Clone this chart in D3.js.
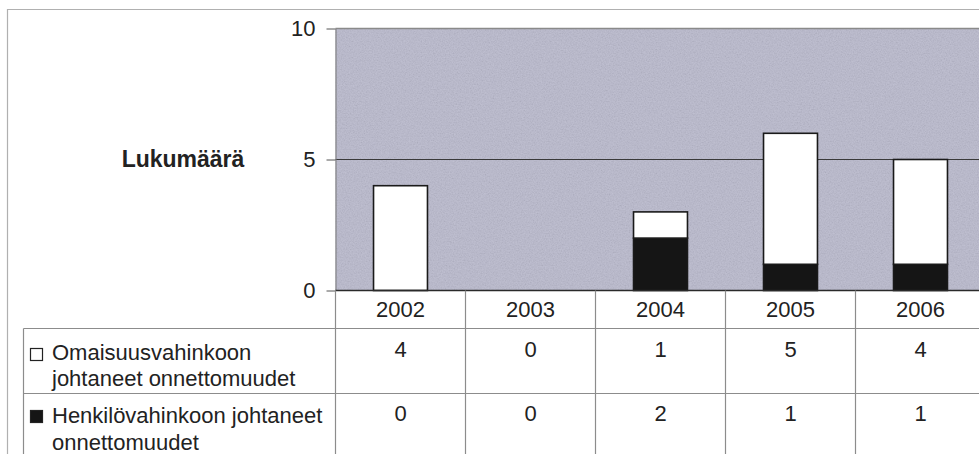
<!DOCTYPE html>
<html>
<head>
<meta charset="utf-8">
<script src="https://cdn.jsdelivr.net/npm/d3@7"></script>
<style>
  html, body { margin: 0; padding: 0; background: #fff; }
  svg { display: block; }
  text { font-family: Arial, "Liberation Sans", sans-serif; fill: #222; }
</style>
</head>
<body>
<svg id="chart" width="979" height="454"></svg>
<script>
// ---- data ----
const years = ["2002", "2003", "2004", "2005", "2006"];
const omaisuus = [4, 0, 1, 5, 4];   // Omaisuusvahinkoon johtaneet onnettomuudet (white)
const henkilo = [0, 0, 2, 1, 1];    // Henkilövahinkoon johtaneet onnettomuudet (black)
const yTicks = [0, 5, 10];
const seriesLabels = [
  ["Omaisuusvahinkoon", "johtaneet onnettomuudet"],
  ["Henkilövahinkoon johtaneet", "onnettomuudet"]
];
const seriesValues = [omaisuus, henkilo];
const seriesColors = ["#ffffff", "#151515"];
const axisTitle = "Lukumäärä";

// ---- layout ----
const W = 979, H = 454;
const plotL = 335.5, plotR = 985.5, plotT = 28.5, plotB = 290.5;
const tableL = 23.5, row1T = 328.5, row2T = 393.5;
const FS = "22px";

const svg = d3.select("#chart");

// grain filter for the plot background
const defs = svg.append("defs");
const f = defs.append("filter").attr("id", "grain")
  .attr("x", 0).attr("y", 0).attr("width", 1).attr("height", 1);
f.append("feTurbulence").attr("type", "fractalNoise")
  .attr("baseFrequency", 0.75).attr("numOctaves", 2).attr("seed", 7).attr("result", "n");
f.append("feColorMatrix").attr("type", "matrix")
  .attr("values", "1 0 0 0 0  1 0 0 0 0  1 0 0 0 0  0 0 0 0 0.14");

const x = d3.scaleBand().domain(years).range([plotL, plotR]).padding(0);
const xb = d3.scaleBand().domain(years).range([plotL, plotR])
  .paddingInner(0.585).paddingOuter(0.2925);
const y = d3.scaleLinear().domain([0, 10]).range([plotB, plotT]);

// outer frame
svg.append("path")
  .attr("d", `M7.5,${H} V9.5 H${W}`)
  .attr("fill", "none").attr("stroke", "#b0b0b0").attr("stroke-width", 1.2);

// plot background
svg.append("rect")
  .attr("x", plotL).attr("y", plotT)
  .attr("width", plotR - plotL).attr("height", plotB - plotT)
  .attr("fill", "#b8b8cc");
svg.append("rect")
  .attr("x", plotL).attr("y", plotT)
  .attr("width", plotR - plotL).attr("height", plotB - plotT)
  .attr("filter", "url(#grain)");
svg.append("line")
  .attr("x1", plotL).attr("x2", plotR).attr("y1", plotT).attr("y2", plotT)
  .attr("stroke", "#8a8a8a").attr("stroke-width", 1.5);

// gridline at 5
svg.append("g").selectAll("line")
  .data(yTicks.filter(t => t > 0 && t < 10))
  .join("line")
  .attr("x1", plotL).attr("x2", plotR)
  .attr("y1", d => y(d)).attr("y2", d => y(d))
  .attr("stroke", "#3a3a3a").attr("stroke-width", 1);

// stacked bars
const stackData = years.map((yr, i) => ({ year: yr, henkilo: henkilo[i], omaisuus: omaisuus[i] }));
const stack = d3.stack().keys(["henkilo", "omaisuus"]);
const layers = stack(stackData);
const colorByKey = { henkilo: seriesColors[1], omaisuus: seriesColors[0] };

svg.append("g").selectAll("g")
  .data(layers)
  .join("g")
  .attr("fill", d => colorByKey[d.key])
  .selectAll("rect")
  .data(d => d.filter(s => s[1] - s[0] > 0))
  .join("rect")
  .attr("x", d => xb(d.data.year))
  .attr("width", xb.bandwidth())
  .attr("y", d => y(d[1]))
  .attr("height", d => y(d[0]) - y(d[1]))
  .attr("stroke", "#1a1a1a").attr("stroke-width", 1.6);

// y axis
const yAxis = d3.axisLeft(y).tickValues(yTicks).tickSize(9).tickSizeOuter(0).tickPadding(11);
const gy = svg.append("g").attr("transform", `translate(${plotL},0)`).call(yAxis);
gy.select(".domain").attr("stroke", "#7a7a7a");
gy.selectAll(".tick line").attr("stroke", "#555");
gy.selectAll(".tick text")
  .style("font-size", FS)
  .style("font-family", "Arial, 'Liberation Sans', sans-serif")
  .attr("fill", "#222");

// axis title
svg.append("text")
  .attr("x", 183).attr("y", 167)
  .attr("text-anchor", "middle")
  .style("font-size", "23px").style("font-weight", "bold")
  .text(axisTitle);

// ---- data table ----
const lineColor = "#8c8c8c";
const tg = svg.append("g");
tg.append("line").attr("x1", plotL).attr("x2", W).attr("y1", plotB).attr("y2", plotB)
  .attr("stroke", "#2a2a2a").attr("stroke-width", 1.4);
[row1T, row2T].forEach(yy => {
  tg.append("line").attr("x1", tableL).attr("x2", W).attr("y1", yy).attr("y2", yy)
    .attr("stroke", lineColor).attr("stroke-width", 1.2);
});
tg.append("line").attr("x1", tableL).attr("x2", tableL).attr("y1", row1T).attr("y2", H)
  .attr("stroke", lineColor).attr("stroke-width", 1.2);
tg.selectAll("line.v")
  .data(years)
  .join("line").attr("class", "v")
  .attr("x1", d => x(d)).attr("x2", d => x(d))
  .attr("y1", plotB).attr("y2", H)
  .attr("stroke", lineColor).attr("stroke-width", 1.2);

// year header
tg.selectAll("text.year")
  .data(years)
  .join("text").attr("class", "year")
  .attr("x", d => x(d) + x.bandwidth() / 2)
  .attr("y", 317)
  .attr("text-anchor", "middle")
  .style("font-size", FS)
  .text(d => d);

// value rows
const rowBaselines = [357, 421];
seriesValues.forEach((vals, r) => {
  tg.append("g").selectAll("text")
    .data(vals)
    .join("text")
    .attr("x", (d, i) => x(years[i]) + x.bandwidth() / 2)
    .attr("y", rowBaselines[r])
    .attr("text-anchor", "middle")
    .style("font-size", FS)
    .text(d => d);
});

// legend cells
const legendBase = [[360, 386], [423, 450]];
const markerY = [348, 410];
seriesLabels.forEach((lines, r) => {
  tg.append("rect")
    .attr("x", 30.5).attr("y", markerY[r] + 0.5)
    .attr("width", 12).attr("height", 12)
    .attr("fill", seriesColors[r])
    .attr("stroke", "#222").attr("stroke-width", 1.2);
  lines.forEach((ln, k) => {
    tg.append("text")
      .attr("x", 52).attr("y", legendBase[r][k])
      .style("font-size", FS)
      .text(ln);
  });
});
</script>
</body>
</html>
